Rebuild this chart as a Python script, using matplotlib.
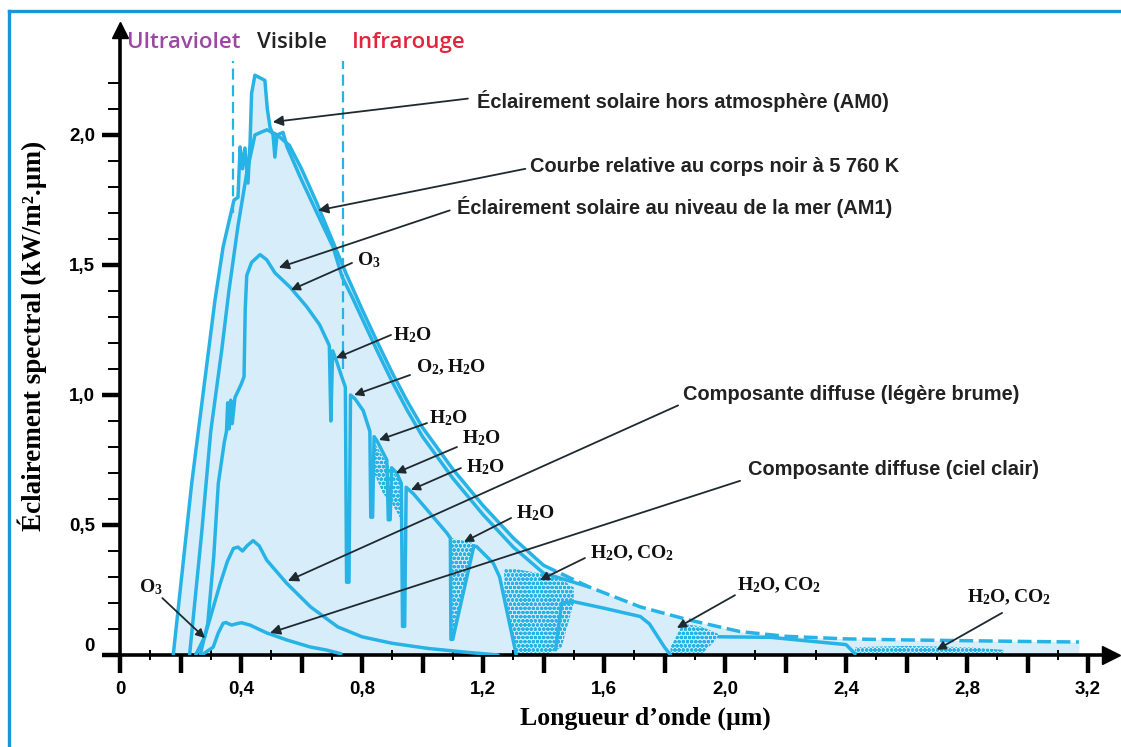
import numpy as np
import matplotlib.pyplot as plt
from matplotlib.lines import Line2D

plt.rcParams['mathtext.fontset'] = 'custom'
plt.rcParams['mathtext.rm'] = 'Liberation Serif'
plt.rcParams['mathtext.bf'] = 'Liberation Serif:bold'
plt.rcParams['hatch.linewidth'] = 1.2

CYAN = '#27b3e6'
FILL = '#d7eefa'
INK = '#1f2a30'

# Extraterrestrial solar irradiance (AM0), kW/m2.um vs wavelength in um
am0_x = [0.176, 0.237, 0.314, 0.341, 0.364, 0.377, 0.39, 0.397, 0.405, 0.413,
         0.423, 0.43, 0.435, 0.446, 0.463, 0.479, 0.487, 0.496, 0.506, 0.512,
         0.519, 0.539, 0.552, 0.595, 0.651, 0.704, 0.734, 0.77, 0.80, 0.85,
         0.90, 0.95, 1.00, 1.10, 1.20, 1.30, 1.40, 1.55]
am0_y = [0.0, 0.66, 1.365, 1.57, 1.686, 1.75, 1.76, 1.954, 1.87, 1.95,
         1.815, 1.97, 2.16, 2.23, 2.22, 2.21, 2.10, 2.03, 2.0, 1.915,
         2.0, 2.01, 1.955, 1.84, 1.70, 1.57, 1.455, 1.37, 1.295, 1.17,
         1.05, 0.94, 0.84, 0.68, 0.54, 0.415, 0.315, 0.262]

# Black body at 5760 K
bb_x = [0.23, 0.27, 0.30, 0.336, 0.36, 0.39, 0.42, 0.446, 0.465, 0.486,
        0.52, 0.56, 0.60, 0.65, 0.70, 0.75, 0.80, 0.85, 0.90, 0.95,
        1.00, 1.10, 1.20, 1.30, 1.40, 1.55, 1.72, 1.88, 2.05, 2.20,
        2.40, 2.60, 2.80, 3.00, 3.17]
bb_y = [0.0, 0.47, 0.86, 1.17, 1.40, 1.65, 1.86, 2.00, 2.01, 2.02,
        2.00, 1.96, 1.87, 1.74, 1.60, 1.46, 1.33, 1.205, 1.085, 0.975,
        0.875, 0.715, 0.575, 0.45, 0.345, 0.262, 0.185, 0.135, 0.09, 0.072,
        0.062, 0.058, 0.055, 0.052, 0.05]

# Sea level irradiance (AM1), split by the saturated absorption bands
am1_x = [0.265, 0.29, 0.31, 0.325, 0.345, 0.352, 0.356, 0.361, 0.366, 0.371,
         0.38, 0.40, 0.41, 0.414, 0.419, 0.435, 0.463, 0.485, 0.512, 0.562,
         0.617, 0.66, 0.692, 0.697, 0.703, 0.716, 0.733, 0.745, 0.749, 0.757,
         0.762, 0.777, 0.804, 0.826, 0.829, 0.835, 0.84, 0.849, 0.882, 0.887,
         0.893, 0.898, 0.915, 0.930, 0.934, 0.941, 0.946, 0.970, 1.025, 1.08,
         1.092, 1.094, 1.10, 1.17, 1.179, 1.234, 1.255, 1.31]
am1_y = [0.0, 0.12, 0.38, 0.66, 0.82, 0.86, 0.97, 0.87, 0.98, 0.89,
         0.99, 1.04, 1.07, 1.33, 1.46, 1.51, 1.54, 1.52, 1.47, 1.415,
         1.34, 1.27, 1.19, 0.90, 1.17, 1.13, 1.07, 1.03, 0.28, 0.28,
         1.00, 0.985, 0.94, 0.86, 0.53, 0.53, 0.84, 0.825, 0.75, 0.52,
         0.52, 0.72, 0.70, 0.66, 0.11, 0.11, 0.645, 0.62, 0.545, 0.47,
         0.45, 0.06, 0.06, 0.42, 0.417, 0.353, 0.30, 0.0]
am1_swir_x = [1.44, 1.46, 1.50, 1.60, 1.72, 1.75, 1.80, 1.82]
am1_swir_y = [0.02, 0.20, 0.205, 0.18, 0.148, 0.12, 0.03, 0.0]
am1_far_x = [1.98, 2.15, 2.31, 2.40, 2.43]
am1_far_y = [0.07, 0.068, 0.05, 0.04, 0.005]

# Diffuse components
brume_x = [0.25, 0.28, 0.30, 0.33, 0.355, 0.375, 0.39, 0.405, 0.42, 0.44,
           0.46, 0.485, 0.55, 0.63, 0.72, 0.80, 0.90, 1.02, 1.15, 1.25]
brume_y = [0.0, 0.07, 0.15, 0.27, 0.36, 0.41, 0.415, 0.40, 0.42, 0.44,
           0.42, 0.365, 0.277, 0.185, 0.108, 0.07, 0.045, 0.025, 0.01, 0.0]
ciel_x = [0.27, 0.308, 0.325, 0.341, 0.35, 0.369, 0.391, 0.402, 0.43, 0.485,
          0.551, 0.628, 0.683, 0.73]
ciel_y = [0.0, 0.03, 0.085, 0.122, 0.125, 0.115, 0.122, 0.124, 0.115, 0.085,
          0.058, 0.031, 0.019, 0.005]

# Absorption bands drawn as speckled areas: (x, lower, upper)
bands = [
    ([0.84, 0.87, 0.90, 0.93], [0.70, 0.62, 0.58, 0.52], [0.82, 0.76, 0.71, 0.66]),
    ([1.097, 1.17], [0.07, 0.41], [0.45, 0.43]),
    ([1.27, 1.31, 1.36, 1.41, 1.46, 1.50], [0.25, 0.0, 0.0, 0.0, 0.03, 0.20],
     [0.33, 0.33, 0.32, 0.31, 0.29, 0.26]),
    ([1.82, 1.86, 1.92, 1.98], [0.0, 0.0, 0.0, 0.07], [0.03, 0.12, 0.11, 0.08]),
    ([2.43, 2.60, 2.80, 2.92], [0.0, 0.0, 0.0, 0.0], [0.03, 0.035, 0.03, 0.02]),
]

# UV / visible / IR limits
limits_x = [0.375, 0.737]
limits_bottom = [1.70, 1.10]

x_major = [0, 0.2, 0.4, 0.6, 0.8, 1.0, 1.2, 1.4, 1.6, 1.8, 2.0, 2.2, 2.4, 2.6,
           2.8, 3.0, 3.2]
x_labels = ['0', '', '0,4', '', '0,8', '', '1,2', '', '1,6', '', '2,0', '',
            '2,4', '', '2,8', '', '3,2']
y_major = [0, 0.5, 1.0, 1.5, 2.0]
y_labels = ['0', '0,5', '1,0', '1,5', '2,0']

fig = plt.figure(figsize=(11.21, 7.47), dpi=100)
W, H = 1121, 747
ax = fig.add_axes([120 / W, 92 / H, 991 / W, 625 / H])
ax.set_xlim(0, 991 / 302.5)
ax.set_ylim(0, 625 / 260)

# filled area under the AM0 / black body envelope
ax.fill_between(am0_x, am0_y, color=FILL, lw=0, zorder=1)
ax.fill_between(bb_x, bb_y, color=FILL, lw=0, zorder=1)

for bx, lo, hi in bands:
    ax.fill_between(bx, lo, hi, facecolor=FILL, edgecolor=CYAN, hatch='oooo',
                    lw=0, zorder=2)

lkw = dict(color=CYAN, lw=2.5, solid_joinstyle='round', solid_capstyle='round',
           zorder=3)
bbx = np.array(bb_x)
bby = np.array(bb_y)
ax.plot(bbx[bbx <= 1.40], bby[bbx <= 1.40], **lkw)
ax.plot(bbx[bbx >= 1.40], bby[bbx >= 1.40], color=CYAN, lw=2.5,
        ls=(0, (4, 1.6)), zorder=3)
ax.plot(am0_x, am0_y, **lkw)
ax.plot(am1_x, am1_y, **lkw)
ax.plot(am1_swir_x, am1_swir_y, **lkw)
ax.plot(am1_far_x, am1_far_y, **lkw)
ax.plot(brume_x, brume_y, **lkw)
ax.plot(ciel_x, ciel_y, **lkw)

for lx, lb in zip(limits_x, limits_bottom):
    ax.plot([lx, lx], [lb, 2.285], color=CYAN, lw=1.6, ls=(0, (5, 2.5)),
            zorder=2)

# axes with arrow heads
for s in ['top', 'right']:
    ax.spines[s].set_visible(False)
for s in ['left', 'bottom']:
    ax.spines[s].set_linewidth(2.6)
    ax.spines[s].set_color('black')
ax.plot(1, 0, '>', ms=13, color='black', transform=ax.transAxes, clip_on=False)
ax.plot(0, 1, '^', ms=11, color='black', transform=ax.transAxes, clip_on=False)

ax.set_xticks(x_major)
ax.set_xticklabels(x_labels)
ax.set_xticks([v + 0.1 for v in x_major[:-1]], minor=True)
ax.set_yticks(y_major)
ax.set_yticklabels(y_labels)
ax.set_yticks([0.1, 0.2, 0.3, 0.4, 0.6, 0.7, 0.8, 0.9, 1.1, 1.2, 1.3, 1.4,
               1.6, 1.7, 1.8, 1.9, 2.1, 2.2], minor=True)
ax.tick_params(axis='x', which='major', length=13, width=3.2, direction='out',
               pad=6)
ax.tick_params(axis='x', which='minor', length=7, width=1.4, direction='inout')
ax.tick_params(axis='y', which='major', length=13, width=3.2, direction='out',
               pad=5)
ax.tick_params(axis='y', which='minor', length=9, width=1.4, direction='out')
for lab in ax.get_xticklabels() + ax.get_yticklabels():
    lab.set_fontfamily('Liberation Sans')
    lab.set_fontweight('bold')
    lab.set_fontsize(13.5)
ax.get_yticklabels()[0].set_va('bottom')

ax.set_ylabel('Éclairement spectral (kW/m².µm)', fontsize=19.5,
              fontfamily='Liberation Serif', fontweight='bold')
ax.yaxis.set_label_coords(-0.074, 0.51)
ax.set_xlabel('Longueur d’onde (µm)', fontsize=18.5,
              fontfamily='Liberation Serif', fontweight='bold')
ax.xaxis.set_label_coords(0.53, -0.082)

# spectral region names
ax.text(0.023, 2.355, 'Ultraviolet', color='#9c48a3', fontsize=16,
        fontfamily='Open Sans', fontweight='semibold', va='center')
ax.text(0.453, 2.355, 'Visible', color='#222222', fontsize=16,
        fontfamily='Open Sans', fontweight='semibold', va='center')
ax.text(0.767, 2.355, 'Infrarouge', color='#e2243c', fontsize=16,
        fontfamily='Open Sans', fontweight='semibold', va='center')

# annotations: text, text position, arrow tail, arrow tip
notes = [
    ('Éclairement solaire hors atmosphère (AM0)', (1.18, 2.13), (1.15, 2.14), (0.505, 2.05)),
    ('Courbe relative au corps noir à 5 760 K', (1.355, 1.88), (1.34, 1.87), (0.655, 1.71)),
    ('Éclairement solaire au niveau de la mer (AM1)', (1.114, 1.725), (1.09, 1.71), (0.525, 1.49)),
    ('Composante diffuse (légère brume)', (1.861, 1.0), (1.845, 0.96), (0.555, 0.285)),
    ('Composante diffuse (ciel clair)', (2.076, 0.712), (2.05, 0.67), (0.496, 0.085)),
]
for txt, tpos, tail, tip in notes:
    ax.text(tpos[0], tpos[1], txt, fontsize=14.4, fontfamily='Liberation Sans',
            fontweight='bold', color='#222222', va='center', zorder=5)
    ax.annotate('', xy=tip, xytext=tail,
                arrowprops=dict(arrowstyle='-|>', color=INK, lw=1.3,
                                mutation_scale=15, shrinkA=0, shrinkB=0),
                zorder=5)

species = [
    (r'$\mathbf{O_3}$', (0.783, 1.52), (0.767, 1.508), (0.565, 1.404)),
    (r'$\mathbf{H_2O}$', (0.902, 1.23), (0.896, 1.231), (0.714, 1.142)),
    (r'$\mathbf{O_2,H_2O}$', (0.979, 1.108), (0.959, 1.077), (0.774, 1.0)),
    (r'$\mathbf{H_2O}$', (1.021, 0.912), (1.015, 0.892), (0.856, 0.827)),
    (r'$\mathbf{H_2O}$', (1.131, 0.835), (1.114, 0.80), (0.912, 0.70)),
    (r'$\mathbf{H_2O}$', (1.144, 0.723), (1.127, 0.719), (0.962, 0.635)),
    (r'$\mathbf{H_2O}$', (1.309, 0.546), (1.293, 0.527), (1.137, 0.435)),
    (r'$\mathbf{O_3}$', (0.063, 0.262), (0.14, 0.219), (0.281, 0.065)),
    (r'$\mathbf{H_2O,CO_2}$', (1.554, 0.392), (1.537, 0.373), (1.388, 0.288)),
    (r'$\mathbf{H_2O,CO_2}$', (2.04, 0.269), (2.033, 0.23), (1.841, 0.104)),
    (r'$\mathbf{H_2O,CO_2}$', (2.80, 0.223), (2.916, 0.162), (2.70, 0.02)),
]
for txt, tpos, tail, tip in species:
    ax.text(tpos[0], tpos[1], txt, fontsize=14, color='#111111', va='center',
            zorder=5)
    ax.annotate('', xy=tip, xytext=tail,
                arrowprops=dict(arrowstyle='-|>', color=INK, lw=1.3,
                                mutation_scale=13, shrinkA=0, shrinkB=0),
                zorder=5)

# blue frame
fig.add_artist(Line2D([9 / W, 1], [1 - 11 / H, 1 - 11 / H], color='#1b95d3',
                      lw=2.4, transform=fig.transFigure))
fig.add_artist(Line2D([9 / W, 9 / W], [0, 1 - 11 / H], color='#1b95d3',
                      lw=2.4, transform=fig.transFigure))

fig.savefig('out.png', dpi=100)
